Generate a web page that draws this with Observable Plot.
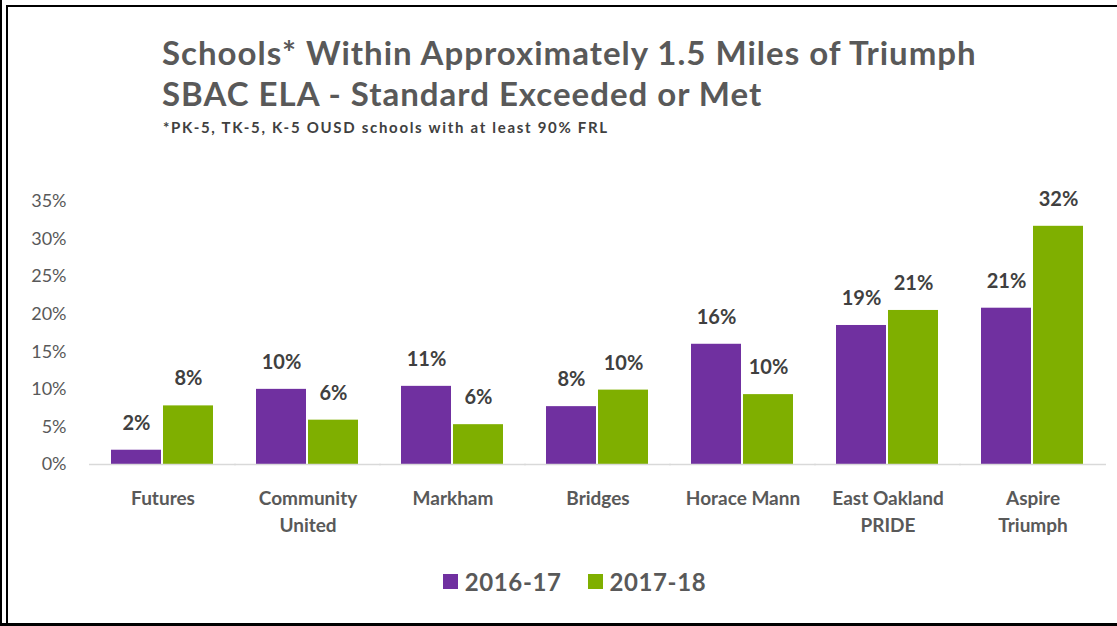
<!DOCTYPE html>
<html>
<head>
<meta charset="utf-8">
<script src="https://cdn.jsdelivr.net/npm/d3@7"></script>
<script src="https://cdn.jsdelivr.net/npm/@observablehq/plot@0.6"></script>
<style>
  html, body { margin: 0; padding: 0; background: #fff; }
  #wrap { position: relative; width: 1117px; height: 626px; overflow: hidden; background: #fff; font-family: Lato, "Open Sans", sans-serif; }
  .b { position: absolute; background: #000; }
  #title { position: absolute; left: 162px; top: 32px; color: #595959; font-weight: 700; font-size: 33px; letter-spacing: 1px; line-height: 41px; white-space: nowrap; }
  #note { position: absolute; left: 163px; top: 118px; color: #404040; font-weight: 700; font-size: 15px; letter-spacing: 1.7px; white-space: nowrap; }
  #chart { position: absolute; left: 0; top: 180px; }
  #legend { position: absolute; left: 16px; width: 1117px; top: 565px; text-align: center; font-size: 24px; letter-spacing: 0.6px; font-weight: 700; color: #595959; }
  .li { display: inline-flex; align-items: center; margin: 0 13px; }
  .sw { width: 15px; height: 15px; display: inline-block; margin-right: 7px; }
</style>
</head>
<body>
<div id="wrap">
  <div class="b" style="left:0;top:0;width:2px;height:626px"></div>
  <div class="b" style="left:6px;top:5px;width:2px;height:621px"></div>
  <div class="b" style="left:6px;top:5px;width:1111px;height:2px"></div>
  <div class="b" style="left:0;top:623px;width:1117px;height:3px"></div>
  <div id="title">Schools* Within Approximately 1.5 Miles of Triumph<br>SBAC ELA - Standard Exceeded or Met</div>
  <div id="note">*PK-5, TK-5, K-5 OUSD schools with at least 90% FRL</div>
  <div id="chart"></div>
  <div id="legend"></div>
</div>
<script>
const schools = ["Futures", "Community United", "Markham", "Bridges", "Horace Mann", "East Oakland PRIDE", "Aspire Triumph"];
const schoolLabels = ["Futures", "Community\nUnited", "Markham", "Bridges", "Horace Mann", "East Oakland\nPRIDE", "Aspire\nTriumph"];
const years = ["2016-17", "2017-18"];
const values1617 = [0.019, 0.100, 0.104, 0.077, 0.160, 0.185, 0.208];
const values1718 = [0.078, 0.059, 0.053, 0.099, 0.093, 0.205, 0.317];
const labels1617 = ["2%", "10%", "11%", "8%", "16%", "19%", "21%"];
const labels1718 = ["8%", "6%", "6%", "10%", "10%", "21%", "32%"];
const yTicks = [0, 0.05, 0.10, 0.15, 0.20, 0.25, 0.30, 0.35];
const colors = ["#7030A0", "#7FAF00"];

const data = [];
schools.forEach((s, i) => {
  data.push({school: s, year: years[0], value: values1617[i], label: labels1617[i]});
  data.push({school: s, year: years[1], value: values1718[i], label: labels1718[i]});
});
const labelOf = new Map(schools.map((s, i) => [s, schoolLabels[i]]));

const chart = Plot.plot({
  width: 1117,
  height: 360,
  marginTop: 21,
  marginBottom: 76,
  marginLeft: 90,
  marginRight: 12,
  style: {fontFamily: "Lato, 'Open Sans', sans-serif", background: "transparent"},
  fx: {domain: schools, paddingInner: 0.29, paddingOuter: 0.145, label: null},
  x: {domain: years, paddingInner: 0.03, paddingOuter: 0, axis: null},
  y: {domain: [0, 0.35], label: null},
  color: {domain: years, range: colors},
  marks: [
    Plot.axisY({ticks: yTicks, tickFormat: d3.format(".0%"), tickSize: 0, tickPadding: 23, dx: -22, fontSize: 18, fill: "#595959", label: null}),
    Plot.axisFx({anchor: "bottom", tickSize: 0, tickPadding: 21, fontSize: 19, fontWeight: 700, fill: "#595959", lineHeight: 1.42, tickFormat: d => labelOf.get(d), label: null}),
    Plot.barY(data, {fx: "school", x: "year", y: "value", fill: "year"}),
    Plot.ruleY([0], {stroke: "#d9d9d9", strokeWidth: 1.5, insetLeft: -22, insetRight: -22}),
    Plot.text(data, {fx: "school", x: "year", y: "value", text: "label", dy: -27, fontSize: 20, fontWeight: 700, fill: "#404040"})
  ]
});
document.getElementById("chart").appendChild(chart);

const legend = document.getElementById("legend");
years.forEach((y, i) => {
  const item = document.createElement("span");
  item.className = "li";
  item.innerHTML = `<span class="sw" style="background:${colors[i]}"></span>${y}`;
  legend.appendChild(item);
});
</script>
</body>
</html>
